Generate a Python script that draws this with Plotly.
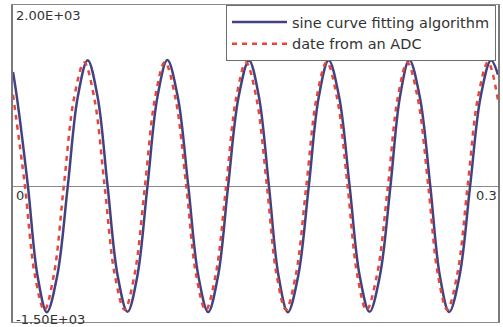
import plotly.graph_objects as go

# ---- data (time in s, amplitude) ----
fit_t = [0.0, 0.00256, 0.00960, 0.01569, 0.02177, 0.02849, 0.03522, 0.04162,
         0.04802, 0.05443, 0.06083, 0.06723, 0.07364, 0.08004, 0.08645, 0.09285,
         0.09925, 0.10597, 0.11270, 0.11910, 0.12550, 0.13191, 0.13831, 0.14503,
         0.15176, 0.15816, 0.16456, 0.17065, 0.17673, 0.18345, 0.19018, 0.19658,
         0.20298, 0.20971, 0.21643, 0.22283, 0.22924, 0.23596, 0.24269, 0.24877,
         0.25485, 0.26157, 0.26830, 0.27438, 0.28046, 0.28719, 0.29391, 0.30063,
         0.30736, 0.31184]
fit_v = [1260, 975, 0, -983, -1392, -983, 0, 983,
         1390, 983, 0, -983, -1388, -983, 0, 983,
         1392, 983, 0, -983, -1390, -983, 0, 983,
         1388, 983, 0, -983, -1392, -983, 0, 983,
         1390, 983, 0, -983, -1388, -983, 0, 983,
         1392, 983, 0, -983, -1390, -983, 0, 983,
         1390, 1230]

adc_t = [0.0, 0.00768, 0.01390, 0.02017, 0.02638, 0.03266, 0.03919, 0.04578,
         0.05231, 0.05891, 0.06531, 0.07172, 0.07825, 0.08484, 0.09125, 0.09765,
         0.10450, 0.11142, 0.11763, 0.12390, 0.13044, 0.13703, 0.14343, 0.14984,
         0.15656, 0.16328, 0.16937, 0.17545, 0.18198, 0.18858, 0.19511, 0.20170,
         0.20843, 0.21515, 0.22123, 0.22732, 0.23417, 0.24108, 0.24730, 0.25357,
         0.26029, 0.26702, 0.27310, 0.27918, 0.28572, 0.29231, 0.29884, 0.30544,
         0.31184]
adc_v = [1010, 0, -967, -1368, -967, 0, 967, 1366,
         967, 0, -967, -1365, -967, 0, 967, 1370,
         967, 0, -967, -1368, -967, 0, 967, 1366,
         967, 0, -967, -1365, -967, 0, 967, 1370,
         967, 0, -967, -1368, -967, 0, 967, 1366,
         967, 0, -967, -1365, -967, 0, 967, 1370,
         950]

series_names = ["sine curve fitting algorithm", "date from an ADC"]

x_tick_vals = [0, 0.3]
x_tick_text = ["0", "0.3"]
y_tick_vals = [2000, -1500]
y_tick_text = ["2.00E+03", "-1.50E+03"]

x_range = [0, 0.31184]
y_range = [-1500, 2000]

FONT = "DejaVu Sans"
TXT = "#333333"

fig = go.Figure()
fig.add_trace(go.Scatter(
    x=fit_t, y=fit_v, name=series_names[0], mode="lines",
    line=dict(color="#424282", width=2.5, shape="spline", smoothing=1.0)))
fig.add_trace(go.Scatter(
    x=adc_t, y=adc_v, name=series_names[1], mode="lines",
    line=dict(color="#e5483a", width=2.5, dash="5px,5px", shape="spline", smoothing=1.0)))

annotations = []
for v, t in zip(x_tick_vals, x_tick_text):
    annotations.append(dict(x=v, y=0, xref="x", yref="y", text=t, showarrow=False,
                            xanchor="center", yanchor="top", xshift=7, yshift=0,
                            font=dict(family=FONT, size=13, color=TXT)))
annotations.append(dict(x=0, y=y_tick_vals[0], xref="x", yref="y", text=y_tick_text[0],
                        showarrow=False, xanchor="left", yanchor="top", xshift=1, yshift=-1,
                        font=dict(family=FONT, size=13, color=TXT)))
annotations.append(dict(x=0, y=y_tick_vals[1], xref="x", yref="y", text=y_tick_text[1],
                        showarrow=False, xanchor="left", yanchor="middle", xshift=1, yshift=3,
                        font=dict(family=FONT, size=13, color=TXT)))

fig.update_layout(
    width=503, height=327,
    margin=dict(l=13, r=3, t=5, b=5),
    paper_bgcolor="white", plot_bgcolor="white",
    showlegend=True,
    legend=dict(x=0.9959, y=1, xanchor="right", yanchor="top",
                bgcolor="white", bordercolor="#6e6e6e", borderwidth=1,
                font=dict(family=FONT, size=14.5, color=TXT),
                itemwidth=55),
    xaxis=dict(range=x_range, showgrid=False, zeroline=False, showticklabels=False,
               ticks="", showline=True, mirror=True, linecolor="#8a8a8a", linewidth=1),
    yaxis=dict(range=y_range, showgrid=False, zeroline=True, zerolinecolor="#8a8a8a",
               zerolinewidth=1, showticklabels=False, ticks="", showline=True,
               mirror=True, linecolor="#7a7a7a", linewidth=2),
    annotations=annotations,
)

fig.write_html("out.html", config={"displayModeBar": False},
               post_script="document.body.style.margin='0';")
